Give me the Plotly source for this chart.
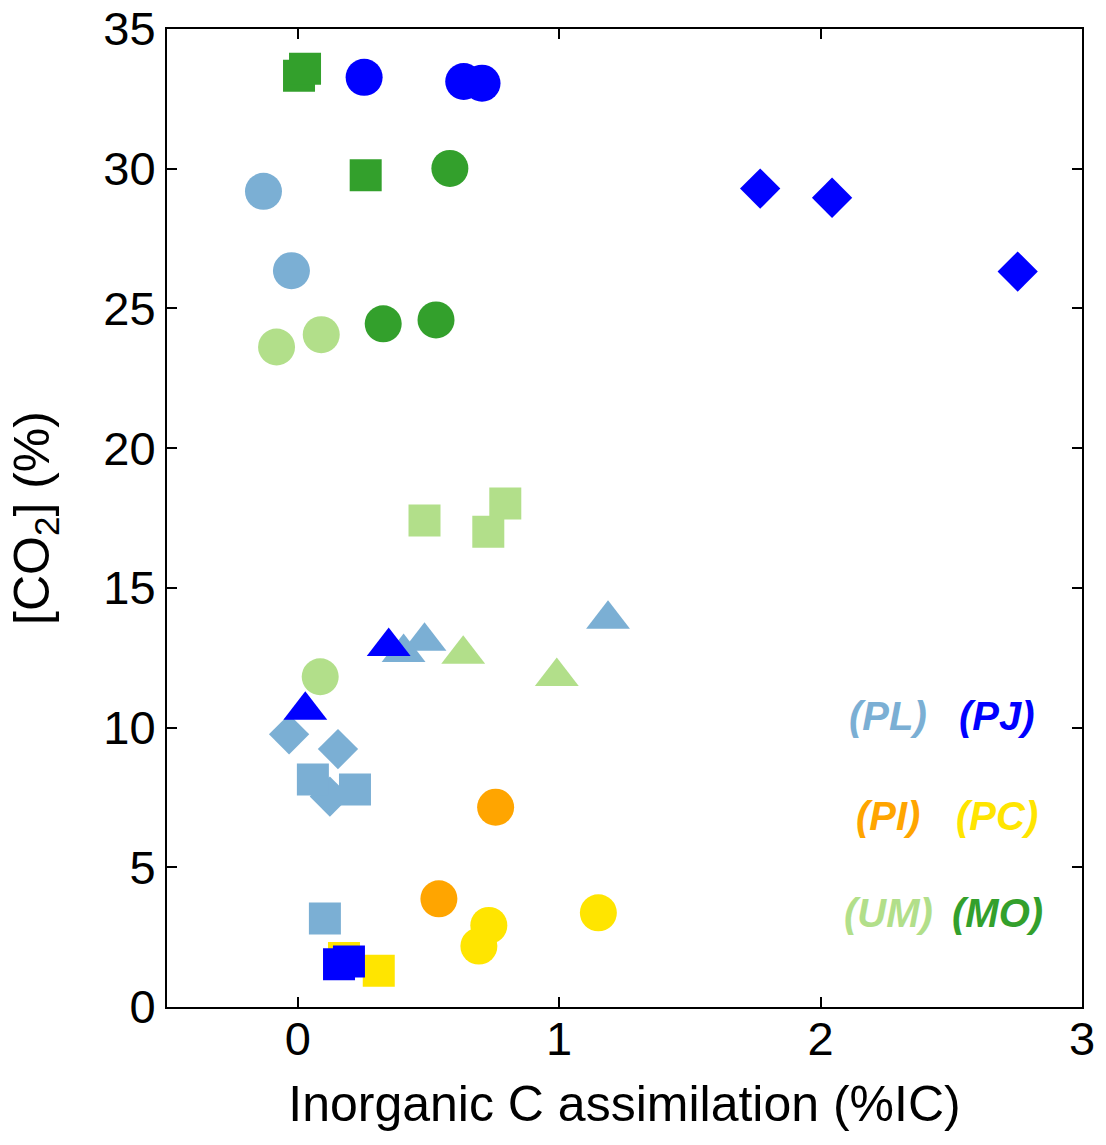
import plotly.graph_objects as go

# ---- data ----
# PL (light blue)
pl_circle_x = [-0.131, -0.024]
pl_circle_y = [29.19, 26.35]
pl_tri_x = [1.187, 0.485, 0.405]
pl_tri_y = [13.88, 13.09, 12.69]
pl_dia_x = [-0.033, 0.154, 0.123]
pl_dia_y = [9.76, 9.23, 7.53]
pl_sq_x = [0.058, 0.219, 0.104]
pl_sq_y = [8.14, 7.78, 3.17]

# UM (light green)
um_circle_x = [-0.081, 0.090, 0.086]
um_circle_y = [23.62, 24.06, 11.82]
um_sq_x = [0.485, 0.794, 0.729]
um_sq_y = [17.41, 18.02, 17.01]
um_tri_x = [0.633, 0.991]
um_tri_y = [12.62, 11.83]

# MO (green)
mo_circle_x = [0.582, 0.327, 0.529]
mo_circle_y = [30.01, 24.45, 24.59]
mo_sq_x = [0.005, 0.028, 0.260]
mo_sq_y = [33.33, 33.58, 29.77]

# PI (orange)
pi_circle_x = [0.757, 0.540]
pi_circle_y = [7.15, 3.87]

# PC (yellow)
pc_circle_x = [0.731, 0.693, 1.150]
pc_circle_y = [2.92, 2.18, 3.37]
pc_sq_x = [0.177, 0.310]
pc_sq_y = [1.75, 1.30]

# PJ (blue)
pj_circle_x = [0.254, 0.635, 0.705]
pj_circle_y = [33.27, 33.12, 33.06]
pj_dia_x = [1.769, 2.044, 2.754]
pj_dia_y = [29.29, 28.96, 26.32]
pj_tri_x = [0.348, 0.029]
pj_tri_y = [12.90, 10.62]
pj_sq_x = [0.158, 0.196]
pj_sq_y = [1.53, 1.63]

# labels
label_text = ["(PL)", "(PJ)", "(PI)", "(PC)", "(UM)", "(MO)"]
label_x = [2.258, 2.676, 2.256, 2.674, 2.258, 2.678]
label_y = [10.4, 10.4, 6.85, 6.85, 3.35, 3.35]

x_ticks = [0, 1, 2, 3]
y_ticks = [0, 5, 10, 15, 20, 25, 30, 35]

# ---- styles ----
C_PL = "#7bafd4"
C_UM = "#b2df8a"
C_MO = "#33a02c"
C_PI = "#ffa500"
C_PC = "#ffe500"
C_PJ = "#0000ff"
label_colors = [C_PL, C_PJ, C_PI, C_PC, C_UM, C_MO]

SIZES = {"circle": 37, "square": 32, "diamond": 31, "triangle-up": 38}

FONT = "Liberation Sans, Arial, sans-serif"

fig = go.Figure()


def add(xs, ys, color, symbol):
    fig.add_trace(go.Scatter(
        x=xs, y=ys, mode="markers",
        marker=dict(color=color, symbol=symbol, size=SIZES[symbol],
                    line=dict(width=0)),
        showlegend=False, hoverinfo="x+y"))


add(pl_circle_x, pl_circle_y, C_PL, "circle")
add(pl_tri_x, pl_tri_y, C_PL, "triangle-up")
add(pl_dia_x, pl_dia_y, C_PL, "diamond")
add(pl_sq_x, pl_sq_y, C_PL, "square")
add(um_circle_x, um_circle_y, C_UM, "circle")
add(um_sq_x, um_sq_y, C_UM, "square")
add(um_tri_x, um_tri_y, C_UM, "triangle-up")
add(mo_circle_x, mo_circle_y, C_MO, "circle")
add(mo_sq_x, mo_sq_y, C_MO, "square")
add(pi_circle_x, pi_circle_y, C_PI, "circle")
add(pc_circle_x, pc_circle_y, C_PC, "circle")
add(pc_sq_x, pc_sq_y, C_PC, "square")
add(pj_circle_x, pj_circle_y, C_PJ, "circle")
add(pj_dia_x, pj_dia_y, C_PJ, "diamond")
add(pj_tri_x, pj_tri_y, C_PJ, "triangle-up")
add(pj_sq_x, pj_sq_y, C_PJ, "square")

for t, lx, ly, c in zip(label_text, label_x, label_y, label_colors):
    fig.add_annotation(x=lx, y=ly, xref="x", yref="y", text="<b><i>%s</i></b>" % t,
                       showarrow=False, font=dict(family=FONT, size=40, color=c),
                       xanchor="center", yanchor="middle")

axis_common = dict(
    showline=True, linecolor="black", linewidth=2, mirror="ticks",
    ticks="inside", ticklen=10, tickwidth=2, tickcolor="black",
    showgrid=False, zeroline=False,
    tickfont=dict(family=FONT, size=47, color="black"),
)

fig.update_xaxes(range=[-0.5, 3], tickvals=x_ticks, ticktext=[str(v) for v in x_ticks],
                 ticklabelstandoff=-10,
                 title=dict(text="Inorganic C assimilation (%IC)",
                            font=dict(family=FONT, size=50, color="black"), standoff=22),
                 **axis_common)
fig.update_yaxes(range=[0, 35], tickvals=y_ticks, ticktext=[str(v) for v in y_ticks],
                 title=dict(text="[CO<sub>2</sub>] (%)",
                            font=dict(family=FONT, size=50, color="black"), standoff=38),
                 **axis_common)

fig.update_layout(
    width=1106, height=1145,
    margin=dict(l=167, r=24, t=29, b=138, autoexpand=False),
    plot_bgcolor="white", paper_bgcolor="white",
    font=dict(family=FONT, color="black"),
)

fig.write_html("out.html", config={"displayModeBar": False},
               post_script="document.body.style.margin='0px';")
